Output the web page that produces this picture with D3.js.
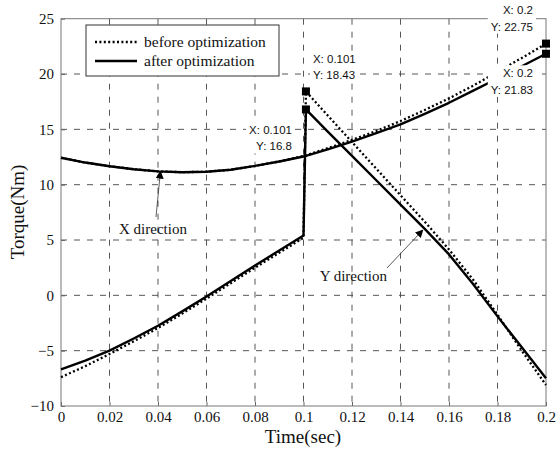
<!DOCTYPE html>
<html>
<head>
<meta charset="utf-8">
<script src="https://cdn.jsdelivr.net/npm/d3@7"></script>
<style>
  body { margin: 0; background: #fff; }
  svg { display: block; }
</style>
</head>
<body>
<div id="chart"></div>
<script>
// shared time axis (sec)
var time = [0, 0.01, 0.02, 0.03, 0.04, 0.05, 0.06, 0.07, 0.08, 0.09, 0.1,
            0.101, 0.11, 0.12, 0.13, 0.14, 0.15, 0.16, 0.17, 0.18, 0.19, 0.2];

// X direction torque
var xBefore = [12.43, 12.0, 11.67, 11.4, 11.2, 11.13, 11.17, 11.35, 11.7, 12.1, 12.6,
               12.65, 13.3, 14.05, 14.85, 15.75, 16.75, 17.8, 18.95, 20.2, 21.45, 22.75];
var xAfter  = [12.43, 12.0, 11.67, 11.4, 11.2, 11.13, 11.17, 11.35, 11.7, 12.1, 12.55,
               12.6, 13.2, 13.9, 14.65, 15.45, 16.4, 17.4, 18.5, 19.6, 20.7, 21.83];

// Y direction torque
var yBefore = [-7.4, -6.4, -5.3, -4.15, -2.95, -1.65, -0.3, 1.1, 2.5, 3.85, 5.2,
               18.43, 16.25, 13.85, 11.45, 9.05, 6.65, 4.15, 1.4, -1.75, -5.0, -8.1];
var yAfter  = [-6.7, -5.9, -5.0, -3.9, -2.75, -1.45, -0.1, 1.3, 2.7, 4.05, 5.4,
               16.8, 14.8, 12.6, 10.4, 8.2, 6.0, 3.7, 1.0, -1.9, -4.7, -7.5];

var xTicks = [0, 0.02, 0.04, 0.06, 0.08, 0.1, 0.12, 0.14, 0.16, 0.18, 0.2];
var yTicks = [-10, -5, 0, 5, 10, 15, 20, 25];

var legendLabels = ["before optimization", "after optimization"];

// data tips
var tipX = [0.101, 0.101, 0.2, 0.2];
var tipY = [18.43, 16.8, 22.75, 21.83];

window.onload = () => {
    var width = 558;
    var height = 454;

    var svg = d3.select("#chart")
        .append("svg")
        .attr("width", width)
        .attr("height", height);

    var x = d3.scaleLinear().domain([0, 0.2]).range([61, 546]);
    var y = d3.scaleLinear().domain([-10, 25]).range([406, 18.7]);

    var serif = "'Liberation Serif', 'Times New Roman', serif";
    var sans = "'Liberation Sans', Arial, Helvetica, sans-serif";

    // grid
    svg.append("g")
        .selectAll("line")
        .data(xTicks.slice(1, -1))
        .enter()
        .append("line")
        .attr("x1", d => x(d)).attr("x2", d => x(d))
        .attr("y1", y(25)).attr("y2", y(-10))
        .attr("stroke", "#444")
        .attr("stroke-width", 0.9)
        .attr("stroke-dasharray", "6,7");

    svg.append("g")
        .selectAll("line")
        .data(yTicks.slice(1, -1))
        .enter()
        .append("line")
        .attr("x1", x(0)).attr("x2", x(0.2))
        .attr("y1", d => y(d)).attr("y2", d => y(d))
        .attr("stroke", "#444")
        .attr("stroke-width", 0.9)
        .attr("stroke-dasharray", "6,7");

    // axes
    var fmt = d => d === 0 ? "0" : String(+d.toFixed(2));

    var gx = svg.append("g")
        .attr("transform", "translate(0," + y(-10) + ")")
        .call(d3.axisBottom(x).tickValues(xTicks).tickFormat(fmt).tickSize(-4).tickPadding(5));
    gx.attr("font-family", serif).attr("font-size", 15);
    gx.select(".domain").remove();
    gx.selectAll("line").attr("stroke", "#666");
    gx.selectAll("text").style("font-family", serif).attr("fill", "#111");

    var gy = svg.append("g")
        .attr("transform", "translate(" + x(0) + ",0)")
        .call(d3.axisLeft(y).tickValues(yTicks).tickSize(-4).tickPadding(7));
    gy.attr("font-family", serif).attr("font-size", 15);
    gy.select(".domain").remove();
    gy.selectAll("line").attr("stroke", "#666");
    gy.selectAll("text").style("font-family", serif).attr("fill", "#111");

    // frame
    svg.append("rect")
        .attr("x", x(0)).attr("y", y(25))
        .attr("width", x(0.2) - x(0))
        .attr("height", y(-10) - y(25))
        .attr("fill", "none")
        .attr("stroke", "#777")
        .attr("stroke-width", 1);

    // curves
    var line = d3.line()
        .x((d, i) => x(time[i]))
        .y(d => y(d));

    var series = [
        { v: xBefore, dotted: true },
        { v: yBefore, dotted: true },
        { v: xAfter, dotted: false },
        { v: yAfter, dotted: false }
    ];

    svg.append("g")
        .selectAll("path")
        .data(series)
        .enter()
        .append("path")
        .attr("d", d => line(d.v))
        .attr("fill", "none")
        .attr("stroke", "#000")
        .attr("stroke-width", d => d.dotted ? 2.3 : 2.4)
        .attr("stroke-linejoin", "round")
        .attr("stroke-dasharray", d => d.dotted ? "2,2.4" : null);

    // annotations
    svg.append("defs").append("marker")
        .attr("id", "arrow")
        .attr("viewBox", "0 0 10 10")
        .attr("refX", 9).attr("refY", 5)
        .attr("markerWidth", 8).attr("markerHeight", 8)
        .attr("markerUnits", "userSpaceOnUse")
        .attr("orient", "auto")
        .append("path")
        .attr("d", "M0,0L10,5L0,10z")
        .attr("fill", "#000");

    var notes = [
        { text: "X direction", t: 0.041, v: 11.2, fx: 156, fy: 217, tx: 119, ty: 234, anchor: "start" },
        { text: "Y direction", t: 0.1492, v: 5.9, fx: 387, fy: 268, tx: 387, ty: 281, anchor: "end" }
    ];

    notes.forEach(n => {
        svg.append("line")
            .attr("x1", n.fx).attr("y1", n.fy)
            .attr("x2", x(n.t)).attr("y2", y(n.v))
            .attr("stroke", "#333")
            .attr("stroke-width", 0.8)
            .attr("marker-end", "url(#arrow)");
        svg.append("text")
            .attr("x", n.tx).attr("y", n.ty)
            .attr("text-anchor", n.anchor)
            .attr("font-family", serif)
            .attr("font-size", 15)
            .attr("fill", "#111")
            .text(n.text);
    });

    // data tips
    var tipLayout = [
        { dx: 7, dy: [-32, -16.5], anchor: "start" },
        { dx: -14, dy: [21, 37], anchor: "end" },
        { dx: -13, dy: [-33.5, -17], anchor: "end" },
        { dx: -13, dy: [19.5, 36], anchor: "end" }
    ];

    tipX.forEach((t, i) => {
        var px = x(t), py = y(tipY[i]);
        var lay = tipLayout[i];
        var g = svg.append("g");
        var bg = g.append("rect").attr("fill", "#fff");
        var lines = ["X: " + t, "Y: " + tipY[i]];
        lines.forEach((s, k) => {
            g.append("text")
                .attr("x", px + lay.dx)
                .attr("y", py + lay.dy[k])
                .attr("dy", "0.35em")
                .attr("text-anchor", lay.anchor)
                .attr("font-family", sans)
                .attr("font-size", 11.5)
                .attr("fill", "#111")
                .text(s);
        });
        var bb = g.node().getBBox();
        bg.attr("x", bb.x - 3).attr("y", bb.y - 2)
            .attr("width", bb.width + 6).attr("height", bb.height + 3);
    });

    svg.append("g")
        .selectAll("rect")
        .data(tipX)
        .enter()
        .append("rect")
        .attr("x", (d, i) => x(d) - 4)
        .attr("y", (d, i) => y(tipY[i]) - 4)
        .attr("width", 8)
        .attr("height", 8)
        .attr("fill", "#000");

    // legend
    var lg = svg.append("g");
    lg.append("rect")
        .attr("x", 86).attr("y", 25)
        .attr("width", 193).attr("height", 51)
        .attr("fill", "#fff")
        .attr("stroke", "#333")
        .attr("stroke-width", 1);

    legendLabels.forEach((lbl, i) => {
        var ly = 42 + i * 19;
        lg.append("line")
            .attr("x1", 95).attr("x2", 137)
            .attr("y1", ly).attr("y2", ly)
            .attr("stroke", "#000")
            .attr("stroke-width", i === 0 ? 2.3 : 2.4)
            .attr("stroke-dasharray", i === 0 ? "2,2.4" : null);
        lg.append("text")
            .attr("x", 144).attr("y", ly)
            .attr("dy", "0.32em")
            .attr("font-family", serif)
            .attr("font-size", 15.5)
            .attr("fill", "#111")
            .text(lbl);
    });

    // axis titles
    svg.append("text")
        .attr("x", 303).attr("y", 443)
        .attr("text-anchor", "middle")
        .attr("font-family", serif)
        .attr("font-size", 19)
        .attr("fill", "#111")
        .text("Time(sec)");

    svg.append("text")
        .attr("transform", "translate(17,212) rotate(-90)")
        .attr("text-anchor", "middle")
        .attr("dominant-baseline", "central")
        .attr("font-family", serif)
        .attr("font-size", 19)
        .attr("fill", "#111")
        .text("Torque(Nm)");
};
</script>
</body>
</html>
